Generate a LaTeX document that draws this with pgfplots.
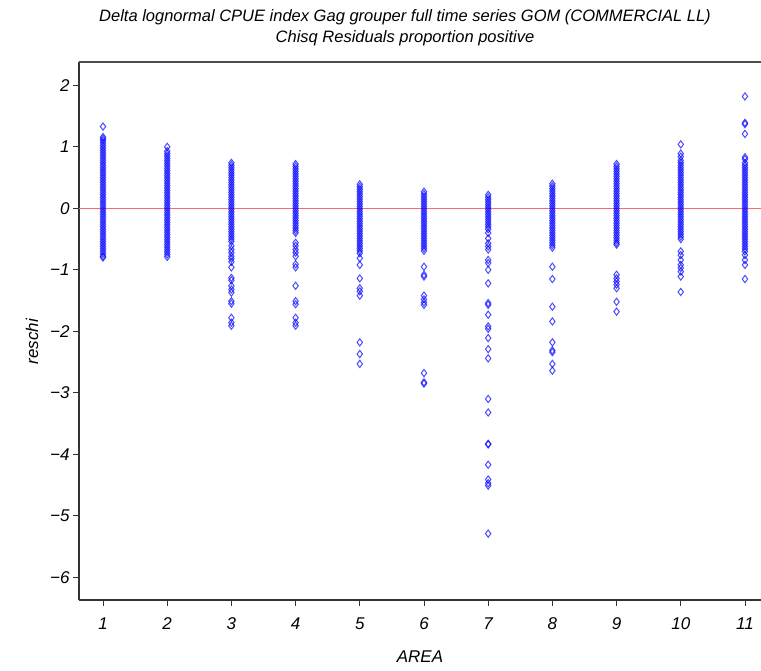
\documentclass[border=0pt]{standalone}
\usepackage{fontspec}
\setmainfont{Liberation Sans}
\usepackage{pgfplots}
\pgfplotsset{compat=1.18}
\usetikzlibrary{calc}
\definecolor{zeroline}{RGB}{245,110,110}
\begin{document}
\begin{tikzpicture}
\begin{axis}[
  scale only axis, width=682pt, height=538pt,
  xmin=0.626, xmax=11.25, ymin=-6.37, ymax=2.38,
  axis x line*=bottom, axis y line*=left,
  axis line style={black!80, line width=1.3pt, -},
  xtick={1,2,3,4,5,6,7,8,9,10,11},
  xticklabels={1,2,3,4,5,6,7,8,9,10,11},
  ytick={-6,-5,-4,-3,-2,-1,0,1,2},
  yticklabels={−6,−5,−4,−3,−2,−1,0,1,2},
  tick align=outside, major tick length=6pt,
  tick style={black!80, line width=0.8pt},
  ticklabel style={font=\itshape\fontsize{17}{20}\selectfont},
  xticklabel style={yshift=-8pt},
  xlabel={AREA}, ylabel={reschi},
  label style={font=\itshape\fontsize{17}{20}\selectfont},
  xlabel style={at={(axis description cs:0.5,-0.106)}, anchor=center},
  ylabel style={at={(axis description cs:-0.069,0.48)}, anchor=center},
  clip=true,
]
\draw[black!70, line width=1.3pt] (rel axis cs:0,1) -- (rel axis cs:1,1);
\addplot[zeroline, line width=1.5pt] coordinates {(0.5,0) (11.5,0)};
\addplot[only marks, mark=diamond, mark size=3.6pt,
  mark options={draw=blue, draw opacity=0.7, line width=1pt, fill opacity=0}]
coordinates {
(1,1.33)(1,1.16)(1,1.13)(1,1.10)(1,1.06)
(1,1.02)(1,0.98)(1,0.94)(1,0.90)(1,0.86)(1,0.82)(1,0.78)(1,0.74)(1,0.70)(1,0.66)(1,0.62)(1,0.58)(1,0.54)(1,0.50)(1,0.46)(1,0.42)(1,0.38)(1,0.34)(1,0.30)(1,0.26)(1,0.22)(1,0.18)(1,0.14)(1,0.10)(1,0.06)(1,0.02)
(1,-0.02)(1,-0.06)(1,-0.10)(1,-0.14)(1,-0.18)(1,-0.22)(1,-0.26)(1,-0.30)(1,-0.34)(1,-0.38)(1,-0.42)(1,-0.46)(1,-0.50)(1,-0.54)(1,-0.58)(1,-0.62)(1,-0.66)(1,-0.70)(1,-0.74)(1,-0.78)(1,-0.80)
(2,1.00)(2,0.93)
(2,0.89)(2,0.85)(2,0.81)(2,0.77)(2,0.73)(2,0.69)(2,0.65)(2,0.61)(2,0.57)(2,0.53)(2,0.49)(2,0.45)(2,0.41)(2,0.37)(2,0.33)(2,0.29)(2,0.25)(2,0.21)(2,0.17)(2,0.13)(2,0.09)(2,0.05)(2,0.01)
(2,-0.03)(2,-0.07)(2,-0.11)(2,-0.15)(2,-0.19)(2,-0.23)(2,-0.27)(2,-0.31)(2,-0.35)(2,-0.39)(2,-0.43)(2,-0.47)(2,-0.51)(2,-0.55)(2,-0.59)(2,-0.63)(2,-0.67)(2,-0.71)(2,-0.75)(2,-0.79)
(3,0.74)(3,0.70)(3,0.66)(3,0.62)(3,0.58)(3,0.54)(3,0.50)(3,0.46)(3,0.42)(3,0.38)(3,0.34)(3,0.30)(3,0.26)(3,0.22)(3,0.18)(3,0.14)(3,0.10)(3,0.06)(3,0.02)
(3,-0.02)(3,-0.06)(3,-0.10)(3,-0.14)(3,-0.18)(3,-0.22)(3,-0.26)(3,-0.30)(3,-0.34)(3,-0.38)(3,-0.42)(3,-0.46)(3,-0.50)(3,-0.54)
(3,-0.61)(3,-0.67)(3,-0.72)(3,-0.78)(3,-0.82)(3,-0.87)(3,-0.96)(3,-1.13)(3,-1.17)(3,-1.26)(3,-1.32)(3,-1.37)(3,-1.51)(3,-1.55)(3,-1.78)(3,-1.86)(3,-1.91)
(4,0.72)(4,0.68)(4,0.64)(4,0.60)(4,0.56)(4,0.52)(4,0.48)(4,0.44)(4,0.40)(4,0.36)(4,0.32)(4,0.28)(4,0.24)(4,0.20)(4,0.16)(4,0.12)(4,0.08)(4,0.04)(4,0.00)
(4,-0.04)(4,-0.08)(4,-0.12)(4,-0.16)(4,-0.20)(4,-0.24)(4,-0.28)(4,-0.32)(4,-0.36)(4,-0.40)
(4,-0.56)(4,-0.61)(4,-0.67)(4,-0.72)(4,-0.78)(4,-0.91)(4,-0.96)(4,-1.26)(4,-1.51)(4,-1.56)(4,-1.78)(4,-1.86)(4,-1.91)
(5,0.39)(5,0.35)(5,0.31)(5,0.27)(5,0.23)(5,0.19)(5,0.15)(5,0.11)(5,0.07)(5,0.03)
(5,-0.01)(5,-0.05)(5,-0.09)(5,-0.13)(5,-0.17)(5,-0.21)(5,-0.25)(5,-0.29)(5,-0.33)(5,-0.37)(5,-0.41)(5,-0.45)(5,-0.49)(5,-0.53)(5,-0.57)(5,-0.61)(5,-0.65)(5,-0.69)(5,-0.73)
(5,-0.81)(5,-0.92)(5,-1.14)(5,-1.30)(5,-1.35)(5,-1.42)(5,-2.18)(5,-2.37)(5,-2.53)
(6,0.27)(6,0.23)(6,0.19)(6,0.15)(6,0.11)(6,0.07)(6,0.03)
(6,-0.01)(6,-0.05)(6,-0.09)(6,-0.13)(6,-0.17)(6,-0.21)(6,-0.25)(6,-0.29)(6,-0.33)(6,-0.37)(6,-0.41)(6,-0.45)(6,-0.49)(6,-0.53)(6,-0.57)(6,-0.61)(6,-0.65)
(6,-0.69)(6,-0.95)(6,-1.08)(6,-1.11)(6,-1.42)(6,-1.48)(6,-1.53)(6,-1.57)(6,-2.68)(6,-2.83)(6,-2.85)
(7,0.22)(7,0.18)(7,0.14)(7,0.10)(7,0.06)(7,0.02)
(7,-0.02)(7,-0.06)(7,-0.10)(7,-0.14)(7,-0.18)(7,-0.22)(7,-0.26)(7,-0.30)(7,-0.34)
(7,-0.40)(7,-0.49)(7,-0.57)(7,-0.62)(7,-0.67)(7,-0.84)(7,-0.89)(7,-1.00)(7,-1.22)(7,-1.54)(7,-1.57)(7,-1.73)(7,-1.92)(7,-1.96)(7,-2.11)(7,-2.29)(7,-2.44)
(7,-3.10)(7,-3.32)(7,-3.83)(7,-3.84)(7,-4.17)(7,-4.41)(7,-4.47)(7,-4.51)(7,-5.29)
(8,0.40)(8,0.36)(8,0.32)(8,0.28)(8,0.24)(8,0.20)(8,0.16)(8,0.12)(8,0.08)(8,0.04)(8,0.00)
(8,-0.04)(8,-0.08)(8,-0.12)(8,-0.16)(8,-0.20)(8,-0.24)(8,-0.28)(8,-0.32)(8,-0.36)(8,-0.40)(8,-0.44)(8,-0.48)(8,-0.52)(8,-0.56)(8,-0.60)(8,-0.64)
(8,-0.95)(8,-1.15)(8,-1.60)(8,-1.84)(8,-2.18)(8,-2.31)(8,-2.34)(8,-2.53)(8,-2.64)
(9,0.72)(9,0.68)(9,0.64)(9,0.60)(9,0.56)(9,0.52)(9,0.48)(9,0.44)(9,0.40)(9,0.36)(9,0.32)(9,0.28)(9,0.24)(9,0.20)(9,0.16)(9,0.12)(9,0.08)(9,0.04)(9,0.00)
(9,-0.04)(9,-0.08)(9,-0.12)(9,-0.16)(9,-0.20)(9,-0.24)(9,-0.28)(9,-0.32)(9,-0.36)(9,-0.40)(9,-0.44)(9,-0.48)(9,-0.52)(9,-0.56)
(9,-0.59)(9,-1.08)(9,-1.14)(9,-1.19)(9,-1.24)(9,-1.30)(9,-1.52)(9,-1.68)
(10,1.04)(10,0.89)(10,0.84)
(10,0.78)(10,0.74)(10,0.70)(10,0.66)(10,0.62)(10,0.58)(10,0.54)(10,0.50)(10,0.46)(10,0.42)(10,0.38)(10,0.34)(10,0.30)(10,0.26)(10,0.22)(10,0.18)(10,0.14)(10,0.10)(10,0.06)(10,0.02)
(10,-0.02)(10,-0.06)(10,-0.10)(10,-0.14)(10,-0.18)(10,-0.22)(10,-0.26)(10,-0.30)(10,-0.34)(10,-0.38)(10,-0.42)(10,-0.46)(10,-0.50)
(10,-0.70)(10,-0.76)(10,-0.84)(10,-0.92)(10,-0.97)(10,-1.03)(10,-1.11)(10,-1.36)
(11,1.82)(11,1.39)(11,1.37)(11,1.21)(11,0.83)(11,0.80)
(11,0.74)(11,0.70)(11,0.66)(11,0.62)(11,0.58)(11,0.54)(11,0.50)(11,0.46)(11,0.42)(11,0.38)(11,0.34)(11,0.30)(11,0.26)(11,0.22)(11,0.18)(11,0.14)(11,0.10)(11,0.06)(11,0.02)
(11,-0.02)(11,-0.06)(11,-0.10)(11,-0.14)(11,-0.18)(11,-0.22)(11,-0.26)(11,-0.30)(11,-0.34)(11,-0.38)(11,-0.42)(11,-0.46)(11,-0.50)(11,-0.54)(11,-0.58)(11,-0.62)(11,-0.66)(11,-0.70)
(11,-0.76)(11,-0.84)(11,-0.92)(11,-1.15)
};
\end{axis}
\node[font=\itshape\fontsize{16.5}{21}\selectfont, align=center, anchor=center]
  at ($(current axis.north west)+(326pt,34.5pt)$)
  {Delta lognormal CPUE index Gag grouper full time series GOM (COMMERCIAL LL)\\Chisq Residuals proportion positive};
\pgfresetboundingbox
\path[use as bounding box] ($(current axis.south west)+(-79pt,-71pt)$) rectangle ($(current axis.north east)+(0pt,62pt)$);
\end{tikzpicture}
\end{document}
